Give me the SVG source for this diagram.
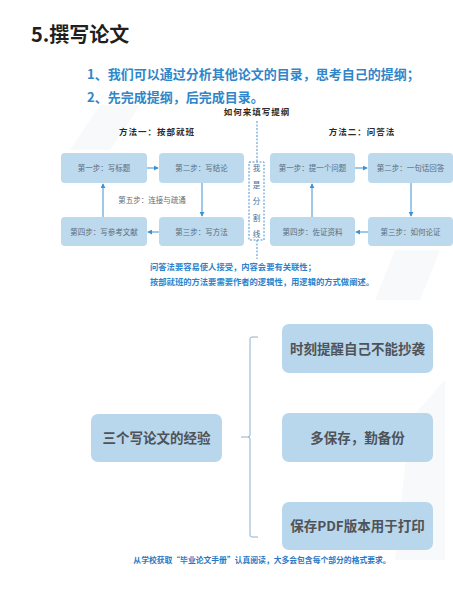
<svg xmlns="http://www.w3.org/2000/svg" width="453" height="597" viewBox="0 0 453 597">
<defs>
<style>
text{font-family:"Noto Sans CJK SC","Noto Sans",sans-serif;}
.title{font-size:20px;font-weight:bold;fill:#1f1f1f;}
.lead{font-size:13px;font-weight:bold;fill:#2f86c9;}
.head{font-size:8.5px;font-weight:bold;fill:#2b2b2b;text-anchor:middle;letter-spacing:1px;}
.step{fill:#bcd9ee;}
.stxt{font-size:7.5px;fill:#5a6c7c;text-anchor:middle;}
.note{font-size:8.3px;font-weight:bold;fill:#2a84cc;}
.big{fill:#b9d7ec;}
.btxt{font-size:13.5px;font-weight:bold;fill:#4f5358;text-anchor:middle;}
.arr{stroke:#3d92d3;stroke-width:1;fill:none;marker-end:url(#ah);}
.cap{font-size:7.8px;font-weight:bold;fill:#2a78c4;text-anchor:middle;}
.vt{font-size:7.5px;fill:#3f6f98;text-anchor:middle;}
</style>
<marker id="ah" viewBox="0 0 6 6" refX="5" refY="3" markerWidth="5" markerHeight="5" orient="auto"><path d="M0,0 L6,3 L0,6 z" fill="#3d92d3"/></marker>
</defs>
<rect width="453" height="597" fill="#ffffff"/>
<g id="watermark" fill="#f8f9fa">
<polygon points="100,105 140,105 110,150 70,150"/>
<polygon points="395,250 440,250 420,300 375,300"/>
<polygon points="410,420 445,380 445,560 395,560"/>
</g>
<text class="title" x="31" y="42">5.撰写论文</text>
<text class="lead" x="87" y="79">1、我们可以通过分析其他论文的目录，思考自己的提纲；</text>
<text class="lead" x="87" y="102">2、先完成提纲，后完成目录。</text>
<text class="head" x="257" y="115">如何来填写提纲</text>
<text class="head" x="157" y="135">方法一：按部就班</text>
<text class="head" x="362" y="135">方法二：问答法</text>
<g id="m1s1"><rect class="step" x="61" y="153" width="86" height="30" rx="4"/><text class="stxt" x="104" y="171">第一步：写标题</text></g>
<g id="m1s2"><rect class="step" x="159" y="153" width="85" height="30" rx="4"/><text class="stxt" x="201.5" y="171">第二步：写结论</text></g>
<g id="m1s3"><rect class="step" x="159" y="217" width="85" height="29" rx="4"/><text class="stxt" x="201.5" y="234.5">第三步：写方法</text></g>
<g id="m1s4"><rect class="step" x="61" y="217" width="86" height="29" rx="4"/><text class="stxt" x="104" y="234.5">第四步：写参考文献</text></g>
<g id="m1s5"><text class="stxt" x="152" y="203">第五步：连接与疏通</text></g>
<g id="m2s1"><rect class="step" x="270" y="153" width="85" height="30" rx="4"/><text class="stxt" x="312.5" y="171">第一步：提一个问题</text></g>
<g id="m2s2"><rect class="step" x="368" y="153" width="85" height="30" rx="4"/><text class="stxt" x="410.5" y="171">第二步：一句话回答</text></g>
<g id="m2s3"><rect class="step" x="368" y="217" width="85" height="29" rx="4"/><text class="stxt" x="410.5" y="234.5">第三步：如何论证</text></g>
<g id="m2s4"><rect class="step" x="270" y="217" width="85" height="29" rx="4"/><text class="stxt" x="312.5" y="234.5">第四步：佐证资料</text></g>
<g id="divider">
<line x1="257" y1="121" x2="257" y2="259" stroke="#4a92cc" stroke-width="1" stroke-dasharray="2,1.5"/>
<rect x="249" y="162" width="15" height="78" fill="#ffffff" stroke="#4a92cc" stroke-width="1" stroke-dasharray="2,1.5"/>
<text class="vt" x="256.5" y="171">我</text>
<text class="vt" x="256.5" y="188">是</text>
<text class="vt" x="256.5" y="204">分</text>
<text class="vt" x="256.5" y="221">割</text>
<text class="vt" x="256.5" y="237">线</text>
</g>
<g id="connectors">
<line class="arr" x1="147" y1="168" x2="158" y2="168"/>
<line class="arr" x1="202" y1="183" x2="202" y2="216"/>
<line class="arr" x1="159" y1="232" x2="148" y2="232"/>
<line class="arr" x1="103" y1="217" x2="103" y2="184"/>
<line class="arr" x1="355" y1="168" x2="367" y2="168"/>
<line class="arr" x1="411" y1="183" x2="411" y2="216"/>
<line class="arr" x1="368" y1="232" x2="356" y2="232"/>
<line class="arr" x1="312" y1="217" x2="312" y2="184"/>
<path d="M258,337 L252,337 Q250,337 250,339 L250,435 Q250,437 248,437 L241,437 M248,437 Q250,437 250,439 L250,535 Q250,537 252,537 L258,537" fill="none" stroke="#8fb1c9" stroke-width="1"/>
</g>
<text class="note" x="150" y="270">问答法要容易使人接受，内容会要有关联性；</text>
<text class="note" x="150" y="285">按部就班的方法要需要作者的逻辑性，用逻辑的方式做阐述。</text>
<g id="exp"><rect class="big" x="91" y="414" width="131" height="48" rx="7"/><text class="btxt" x="156.5" y="443">三个写论文的经验</text></g>
<g id="e1"><rect class="big" x="282" y="324" width="151" height="49" rx="7"/><text class="btxt" x="357.5" y="353.5">时刻提醒自己不能抄袭</text></g>
<g id="e2"><rect class="big" x="282" y="413" width="151" height="49" rx="7"/><text class="btxt" x="357.5" y="442.5">多保存，勤备份</text></g>
<g id="e3"><rect class="big" x="282" y="502" width="151" height="48" rx="7"/><text class="btxt" x="357.5" y="531">保存PDF版本用于打印</text></g>
<text class="cap" x="262" y="563">从学校获取“毕业论文手册”认真阅读，大多会包含每个部分的格式要求。</text>
</svg>
